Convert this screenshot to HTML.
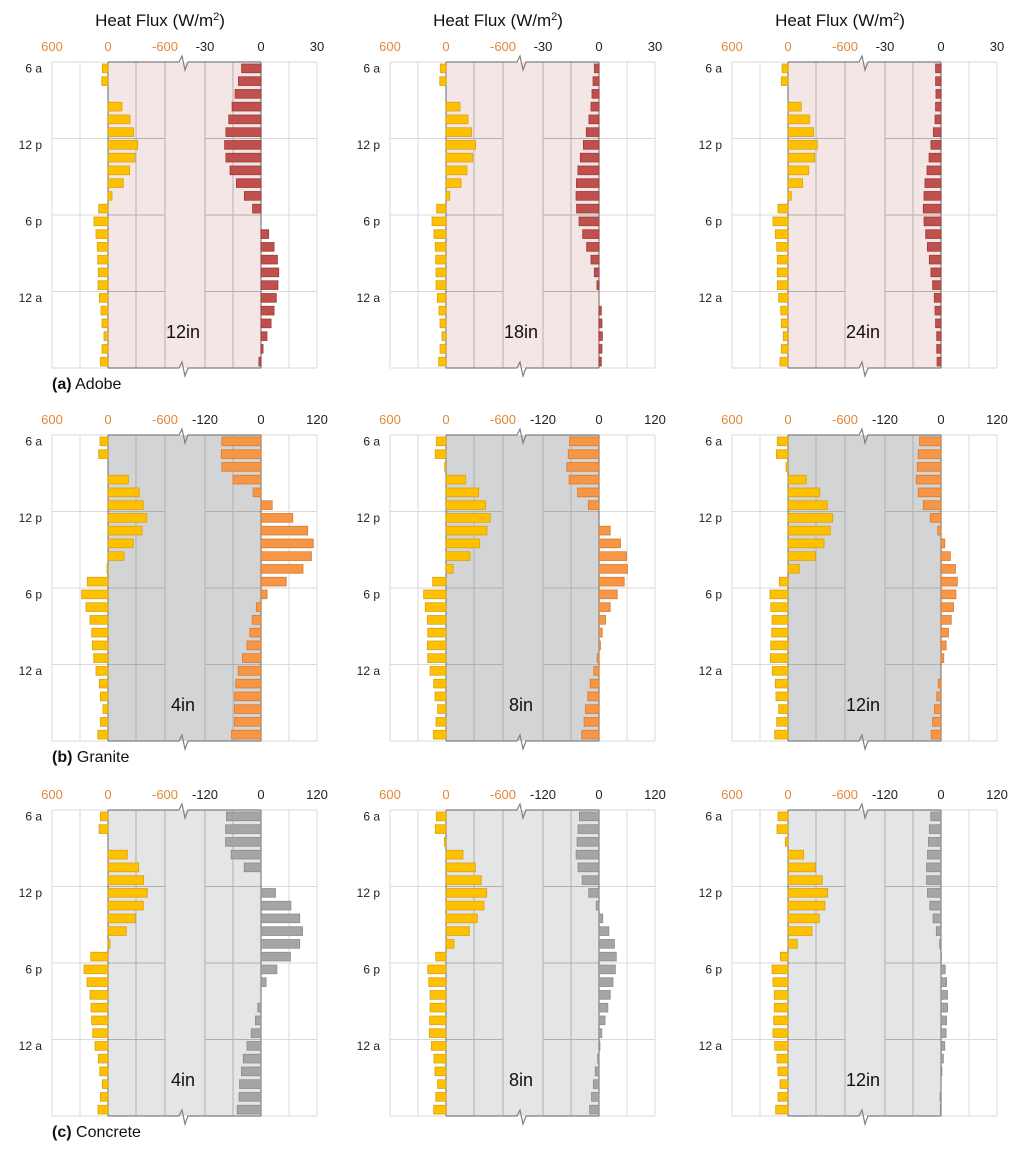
<!DOCTYPE html>
<html><head><meta charset="utf-8">
<style>
html,body{margin:0;padding:0;background:#fff;}
svg{display:block;font-family:"Liberation Sans",Arial,sans-serif;}
</style></head>
<body>
<svg id="chart" width="1024" height="1152" viewBox="0 0 1024 1152" xmlns="http://www.w3.org/2000/svg"></svg>
<script>
const hourLabels = ["6 a","12 p","6 p","12 a"];
const hourLabelRows = [0,6,12,18];
const leftTicks = ["600","0","-600"];
const materials = ["Adobe","Granite","Concrete"];
const materialLetters = ["(a)","(b)","(c)"];
const thicknesses = [["12in","18in","24in"],["4in","8in","12in"],["4in","8in","12in"]];
const rightRanges = [30,120,120];

const solarAdobe12 = [61,67,0,-150,-236,-275,-318,-289,-232,-164,-43,100,150,129,115,110,104,107,93,75,64,43,64,82];
const solarAdobe18 = [61,67,0,-150,-236,-275,-318,-286,-225,-161,-40,100,150,129,115,110,107,107,93,75,64,43,64,78];
const solarAdobe24 = [64,72,0,-142,-232,-275,-314,-286,-222,-157,-35,107,161,136,121,115,115,115,100,78,72,50,72,86];
const solarGranite4 = [86,100,0,-218,-335,-378,-415,-364,-271,-171,11,222,282,236,193,175,168,153,129,93,82,54,82,110];
const solarGranite8 = [104,115,14,-211,-350,-425,-475,-439,-361,-257,-75,143,239,222,200,196,200,196,171,132,118,89,107,136];
const solarGranite12 = [115,125,21,-196,-340,-421,-479,-453,-386,-292,-121,93,193,185,171,175,185,190,168,136,129,100,121,143];
const solarConcrete4 = [82,96,0,-207,-329,-382,-421,-378,-292,-196,-21,185,257,225,193,182,175,164,139,104,89,61,82,107];
const solarConcrete8 = [104,115,18,-182,-314,-378,-436,-407,-335,-250,-86,110,196,185,171,171,175,179,157,129,118,89,110,132];
const solarConcrete12 = [107,118,29,-168,-292,-367,-425,-396,-335,-257,-100,82,171,161,147,147,153,161,143,118,107,86,107,132];

const wallAdobe12 = [-10.4,-12.1,-13.9,-15.5,-17.3,-18.8,-19.5,-18.8,-16.6,-13.2,-8.9,-4.5,0,4.1,7.0,8.8,9.5,9.1,8.2,7.0,5.4,3.2,1.1,-1.1];
const wallAdobe18 = [-2.5,-3.2,-3.75,-4.3,-5.4,-6.8,-8.4,-10,-11.3,-12.1,-12.3,-12,-10.7,-8.75,-6.6,-4.3,-2.5,-1.1,0,1.25,1.6,1.8,1.6,1.25];
const wallAdobe24 = [-2.9,-2.9,-2.7,-2.9,-3.2,-4.1,-5.4,-6.4,-7.5,-8.6,-9.1,-9.5,-9.1,-8.2,-7.3,-6.25,-5.4,-4.5,-3.6,-3.2,-2.9,-2.3,-2.3,-2.1];
const wallGranite4 = [-84,-85,-84,-60,-17,24,68,100,112,108,90,54,13,-10,-19,-24,-30,-40,-49,-54,-57,-57,-57,-63];
const wallGranite8 = [-63,-66,-69,-64,-46,-23,0,24,46,59,61,54,39,24,14,7,3,-4,-11,-19,-24,-29,-32,-37];
const wallGranite12 = [-46,-49,-51,-53,-49,-38,-23,-7,8,20,31,35,32,27,22,16,11,6,0,-6,-9,-14,-18,-21];
const wallConcrete4 = [-74,-76,-76,-64,-36,0,31,64,83,89,83,63,34,11,0,-7,-12,-21,-30,-38,-42,-46,-47,-51];
const wallConcrete8 = [-42,-45,-47,-49,-45,-36,-22,-6,8,21,33,37,35,30,24,19,13,6,2,-3,-8,-12,-16,-20];
const wallConcrete12 = [-22,-25,-27,-29,-31,-31,-29,-24,-17,-10,-3,1,9,12,14,14,12,11,8,5,2,0,-2,-1.5];

const solarSeries = [[solarAdobe12,solarAdobe18,solarAdobe24],[solarGranite4,solarGranite8,solarGranite12],[solarConcrete4,solarConcrete8,solarConcrete12]];
const wallSeries = [[wallAdobe12,wallAdobe18,wallAdobe24],[wallGranite4,wallGranite8,wallGranite12],[wallConcrete4,wallConcrete8,wallConcrete12]];

const NS = "http://www.w3.org/2000/svg";
const svg = document.getElementById("chart");
const colX = [52,390,732];
const rowY = [62,435,810];
const PH = 306, ROWH = PH/24;
const shadeFill = ["#f3e6e5","#d3d4d6","#e4e5e7"];
const wallFill = ["#c0504d","#f79646","#a5a5a5"];
const wallStroke = ["#9e3b39","#d67a30","#8c8c8c"];

function mk(tag, attrs, parent){
  const e = document.createElementNS(NS, tag);
  for (const k in attrs) e.setAttribute(k, attrs[k]);
  (parent||svg).appendChild(e);
  return e;
}
function solarX(x0, v){ return x0 + 56 - v*56/600; }
function wallX(x0, v, R){ return x0 + 209 + v*56/R; }
function rowTop(y0, i){ return y0 + i*ROWH; }

for (let r=0;r<3;r++){
  for (let c=0;c<3;c++){
    const x0 = colX[c], y0 = rowY[r], R = rightRanges[r];
    const g = mk("g",{});
    
    
    // shaded region
    const sh = mk("rect",{x:x0+56,y:y0,width:153,height:PH,fill:shadeFill[r]},g);
    
    
    // vertical grid lines
    [0,28,84,113,153,181,237,265].forEach(dx=>{
      const inside = dx>56 && dx<209;
      mk("line",{x1:x0+dx,y1:y0,x2:x0+dx,y2:y0+PH,stroke:inside?"#b0b0b0":"#dadada","stroke-width":1},g);
    });
    // horizontal grid lines
    [0,6,12,18,24].forEach(k=>{
      const y = rowTop(y0,k);
      const inSeg1 = (k===0||k===24);
      mk("line",{x1:x0,y1:y,x2:x0+56,y2:y,stroke:"#dadada","stroke-width":1},g);
      mk("line",{x1:x0+209,y1:y,x2:x0+265,y2:y,stroke:"#dadada","stroke-width":1},g);
      if(!inSeg1){
        mk("line",{x1:x0+56,y1:y,x2:x0+113,y2:y,stroke:"#b0b0b0","stroke-width":1},g);
        mk("line",{x1:x0+153,y1:y,x2:x0+209,y2:y,stroke:"#b0b0b0","stroke-width":1},g);
      }
    });
    // borders with break marks
    [y0, y0+PH].forEach(yy=>{
      const b = mk("polyline",{points:`${x0+56},${yy} ${x0+127},${yy} ${x0+130},${yy-6} ${x0+133},${yy+8} ${x0+136},${yy} ${x0+209},${yy}`,fill:"none",stroke:"#7f7f7f","stroke-width":1.2},g);
      
      
    });
    mk("line",{x1:x0+56,y1:y0,x2:x0+56,y2:y0+PH,stroke:"#7f7f7f","stroke-width":1.2},g);
    mk("line",{x1:x0+209,y1:y0,x2:x0+209,y2:y0+PH,stroke:"#7f7f7f","stroke-width":1.2},g);

    // solar bars
    const sv = solarSeries[r][c];
    for (let i=0;i<24;i++){
      const v = sv[i]; if (v===0) continue;
      const xa = solarX(x0,0), xb = solarX(x0,v);
      const b = mk("rect",{x:Math.min(xa,xb),y:rowTop(y0,i)+2,width:Math.abs(xb-xa),height:ROWH-4,fill:"#ffc000",stroke:"#d6a21a","stroke-width":0.8},g);
      
      
    }
    // wall bars
    const wv = wallSeries[r][c];
    for (let i=0;i<24;i++){
      const v = wv[i]; if (v===0) continue;
      const xa = wallX(x0,0,R), xb = wallX(x0,v,R);
      const b = mk("rect",{x:Math.min(xa,xb),y:rowTop(y0,i)+2,width:Math.abs(xb-xa),height:ROWH-4,fill:wallFill[r],stroke:wallStroke[r],"stroke-width":0.8},g);
      
      
    }
    // hour labels
    hourLabels.forEach((h,k)=>{
      const t = mk("text",{x:x0-10,y:rowTop(y0,hourLabelRows[k])+ROWH/2+4,"text-anchor":"end","font-size":12,fill:"#222"},g);
      t.textContent = h;
      
      
    });
    // tick labels
    leftTicks.forEach((tk,k)=>{
      const t = mk("text",{x:x0+[0,56,113][k],y:y0-11,"text-anchor":"middle","font-size":13,fill:"#e2883a"},g);
      t.textContent = tk;
      
      
    });
    [-R,0,R].forEach((tk,k)=>{
      const t = mk("text",{x:x0+[153,209,265][k],y:y0-11,"text-anchor":"middle","font-size":13,fill:"#222"},g);
      t.textContent = String(tk);
      
      
    });
    // thickness
    const th = mk("text",{x:x0+131,y:y0+276,"text-anchor":"middle","font-size":18,fill:"#111"},g);
    th.textContent = thicknesses[r][c];
    
    
    if (r===0){
      const tt = mk("text",{x:x0+108,y:26,"text-anchor":"middle","font-size":17,fill:"#111"},g);
      tt.innerHTML = 'Heat Flux (W/m<tspan dy="-6" font-size="11">2</tspan><tspan dy="6">)</tspan>';
      
      
    }
  }
  const lab = mk("text",{x:52,y:rowY[r]+PH+21,"font-size":16,fill:"#111"});
  lab.innerHTML = '<tspan font-weight="bold">'+materialLetters[r]+'</tspan> '+materials[r];
  
  
}
</script>
</body></html>
